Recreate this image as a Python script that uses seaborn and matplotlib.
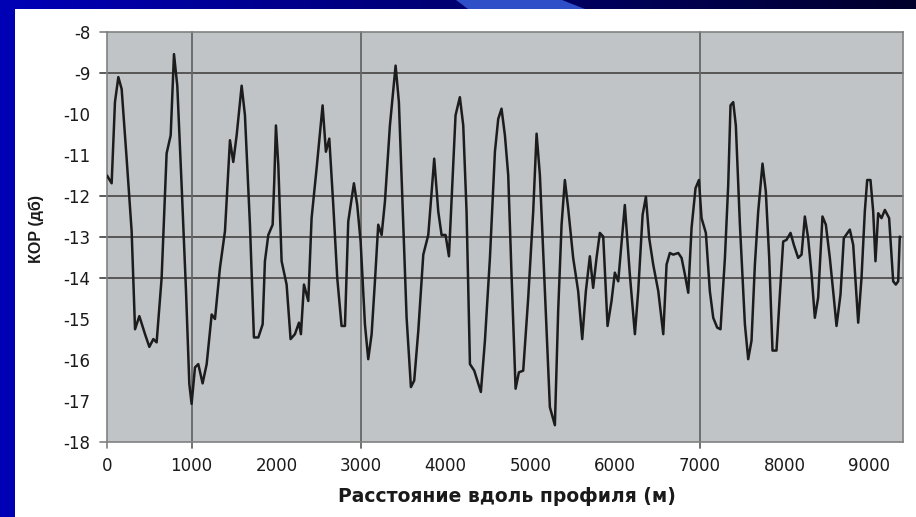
import numpy as np
import pandas as pd
import matplotlib
matplotlib.use("Agg")
import matplotlib.pyplot as plt
from matplotlib.patches import Rectangle, Polygon
import seaborn as sns

# ---------------- data ----------------
distance_m = [
    0, 55, 94, 134, 173, 232, 291, 331, 382, 449, 500, 547, 586, 645, 704, 752, 791, 830, 881, 933,
    972, 999, 1039, 1078, 1129, 1177, 1236, 1275, 1334, 1393, 1452, 1491, 1531, 1590, 1629, 1688,
    1735, 1787, 1838, 1865, 1905, 1956, 1975, 1995, 2023, 2062, 2121, 2168, 2219, 2267, 2290, 2326,
    2377, 2416, 2475, 2546, 2585, 2625, 2672, 2719, 2770, 2810, 2849, 2916, 2955, 2995,
    3046, 3085, 3125, 3164, 3203, 3243, 3282, 3341, 3408, 3447, 3499, 3538, 3589, 3628, 3676, 3735,
    3794, 3864, 3912, 3951, 3998, 4038, 4077, 4116, 4167, 4207, 4246, 4286, 4337, 4415, 4463, 4522,
    4581, 4620, 4659, 4699, 4738, 4777, 4825, 4864, 4915, 4974, 5033, 5073, 5112, 5171, 5230, 5289,
    5328, 5368, 5407, 5446, 5505, 5564, 5612, 5655, 5702, 5741, 5781, 5820, 5860, 5911, 5958, 5997,
    6037, 6115, 6174,
    6234, 6273, 6325, 6364, 6403, 6450, 6510, 6569, 6608, 6647, 6687, 6746, 6785, 6824, 6864, 6903,
    6950, 6990, 7021, 7072, 7119, 7159, 7206, 7245, 7297, 7336, 7363, 7395, 7426, 7474, 7533, 7572,
    7611, 7651, 7690, 7741, 7780, 7820, 7859, 7906, 7946, 7985, 8024, 8072, 8111, 8162, 8202, 8241,
    8280, 8320, 8359, 8398, 8449, 8489, 8536, 8583, 8615, 8662, 8701, 8772, 8812, 8871, 8910, 8949,
    8977, 9016, 9048, 9075, 9107, 9146, 9186, 9236, 9284, 9315, 9343, 9362,
]
kor_db = [
    -11.5, -11.69, -9.71, -9.1, -9.39, -11.09, -12.86, -15.25, -14.93, -15.37, -15.68, -15.49, -15.57,
    -14.0, -10.96, -10.52, -8.54, -9.31, -11.73, -14.32,
    -16.58, -17.07, -16.18, -16.1, -16.57, -16.1, -14.89, -15.0, -13.75, -12.86, -10.64, -11.17,
    -10.52, -9.31, -10.03, -12.7,
    -15.45, -15.45, -15.13, -13.59, -12.95, -12.7, -11.65, -10.28, -11.25, -13.59, -14.16, -15.49,
    -15.37, -15.09, -15.37, -14.16,
    -14.56, -12.54, -11.33, -9.79, -10.92, -10.6, -12.22, -14.0, -15.17, -15.17, -12.62, -11.69,
    -12.22, -13.11,
    -15.13, -15.98, -15.37, -14.08, -12.7, -12.95, -12.14, -10.28, -8.82, -9.71, -12.7, -14.97,
    -16.66, -16.5, -15.29, -13.43,
    -12.95, -11.09, -12.38, -12.95, -12.95, -13.47, -11.73, -10.03, -9.59, -10.28, -12.38, -16.1,
    -16.26, -16.78, -15.53, -13.51,
    -10.92, -10.12, -9.87, -10.52, -11.49, -13.91, -16.7, -16.3, -16.26, -14.49, -12.38, -10.48,
    -11.49, -14.32, -17.15, -17.59,
    -14.8, -12.7, -11.61, -12.3, -13.51, -14.32, -15.49, -14.32, -13.47, -14.24, -13.51, -12.9,
    -12.99, -15.17, -14.56, -13.87,
    -14.08, -12.22, -13.91,
    -15.37, -14.32, -12.46, -12.02, -13.03, -13.67, -14.32, -15.37, -13.67, -13.39, -13.43, -13.39,
    -13.51, -13.91, -14.36, -12.78,
    -11.81, -11.61, -12.54, -12.9, -14.32, -14.97, -15.21, -15.25, -13.51, -11.73, -9.79, -9.71,
    -10.28, -12.7, -15.13, -15.98,
    -15.53, -13.67, -12.38, -11.21, -11.89, -13.51, -15.77, -15.77, -14.4, -13.11, -13.07, -12.9,
    -13.19, -13.51, -13.43, -12.5,
    -13.03, -13.91, -14.97, -14.48, -12.5, -12.7, -13.51, -14.48, -15.17, -14.4, -13.03, -12.82,
    -13.19, -15.09, -14.0, -12.38,
    -11.61, -11.61, -12.38, -13.59, -12.42, -12.54, -12.34, -12.54, -14.08, -14.16, -14.08, -12.99,
]
x_ticks = [0, 1000, 2000, 3000, 4000, 5000, 6000, 7000, 8000, 9000]
y_ticks = [-8, -9, -10, -11, -12, -13, -14, -15, -16, -17, -18]
x_grid = [1000, 3000, 7000]
y_grid = [-9, -12, -13, -14]
x_label = "Расстояние вдоль профиля (м)"
y_label = "КОР (дб)"

df = pd.DataFrame({"d": distance_m, "k": kor_db})

# ---------------- style ----------------
sns.set_theme(style="white")
plt.rcParams["font.family"] = ["DejaVu Sans"]

W, H = 916, 517
fig = plt.figure(figsize=(W / 100, H / 100), dpi=100)

# slide background
bg = fig.add_axes([0, 0, 1, 1], zorder=-10)
bg.set_xlim(0, W)
bg.set_ylim(H, 0)
bg.axis("off")
grad = np.linspace(0, 1, 256)
top = np.zeros((1, 256, 3))
top[0, :, 2] = 0.72 - 0.55 * grad
bg.imshow(top, extent=[0, W, 9, 0], aspect="auto", zorder=0)
bg.add_patch(Polygon([[456, 0], [562, 0], [585, 9], [468, 9]], closed=True,
                     facecolor="#2f4fc8", edgecolor="none", zorder=1))
bg.add_patch(Rectangle((0, 0), 15, H, facecolor="#0000b4", edgecolor="none", zorder=2))
bg.add_patch(Rectangle((15, 9), W - 15, H - 9, facecolor="white", edgecolor="none", zorder=2))

# main axes
L, R, T, B = 107, 903, 32, 442
ax = fig.add_axes([L / W, (H - B) / H, (R - L) / W, (B - T) / H])
ax.set_facecolor("#c0c4c7")

grid_col = "#4e4e4e"
for g in y_grid:
    ax.axhline(g, xmin=-0.009, xmax=1, color=grid_col, lw=1.3, clip_on=False, zorder=1)
for g in x_grid:
    ax.axvline(g, ymin=-0.015, ymax=1, color="#666666", lw=1.3, clip_on=False, zorder=1)
for g in [y_ticks[0], y_ticks[-1]]:
    ax.axhline(g, xmin=-0.009, xmax=0, color="#808080", lw=1.2, clip_on=False)
ax.axvline(x_ticks[0], ymin=-0.015, ymax=0, color="#808080", lw=1.2, clip_on=False)

sns.lineplot(data=df, x="d", y="k", ax=ax, color="#1c1c1c", lw=1.8,
             estimator=None, sort=False, zorder=3)

ax.set_xlim(0, 9400)
ax.set_ylim(-18, -8)
ax.set_xticks(x_ticks)
ax.set_yticks(y_ticks)
ax.set_xticklabels([str(v) for v in x_ticks])
ax.set_yticklabels([str(v) for v in y_ticks])
ax.tick_params(axis="both", length=0, labelsize=12, colors="#1a1a1a")
ax.tick_params(axis="x", pad=11)
ax.tick_params(axis="y", pad=12)

for s in ax.spines.values():
    s.set_visible(True)
    s.set_color("#808080")
    s.set_linewidth(1.2)

ax.set_xlabel(x_label, fontsize=13.5, fontweight="bold", color="#1a1a1a")
ax.set_ylabel(y_label, fontsize=11.5, fontweight="bold", color="#1a1a1a",
              family=["Liberation Sans", "DejaVu Sans"])
ax.xaxis.set_label_coords(0.5025, -0.134)
ax.xaxis.label.set_verticalalignment("center")
ax.yaxis.set_label_coords(-0.089, 0.52)
ax.yaxis.label.set_verticalalignment("center")

fig.savefig("out.png", dpi=100)
